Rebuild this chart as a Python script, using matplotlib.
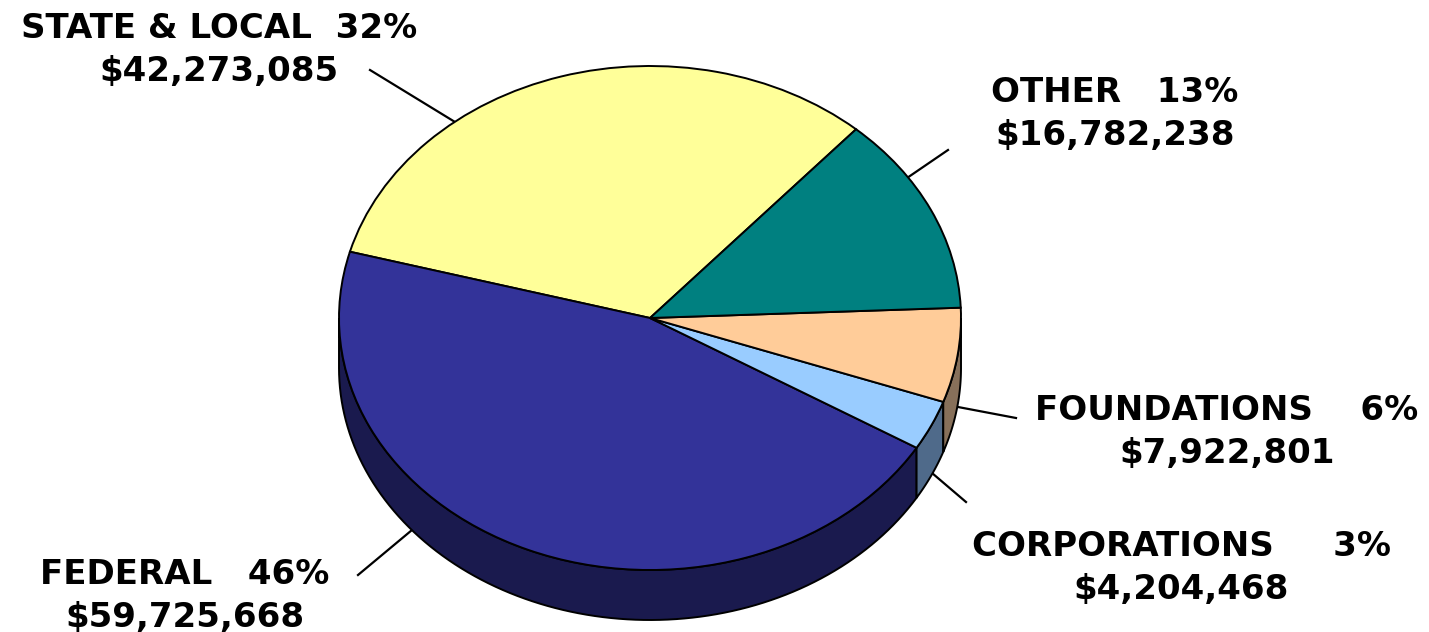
import numpy as np
import matplotlib
matplotlib.use('Agg')
import matplotlib.pyplot as plt
from matplotlib.patches import Polygon

# slices in drawing order, counterclockwise from the state/other boundary
names = ['STATE & LOCAL  32%', 'FEDERAL   46%', 'CORPORATIONS     3%', 'FOUNDATIONS    6%', 'OTHER   13%']
amounts = [42273085, 59725668, 4204468, 7922801, 16782238]
amount_labels = ['$42,273,085', '$59,725,668', '$4,204,468', '$7,922,801', '$16,782,238']
top_colors = ['#FFFF99', '#333399', '#99CCFF', '#FFCC99', '#008080']
side_colors = ['#808050', '#1A1A4E', '#4F6A8A', '#87705A', '#004040']

W, H = 1429, 632
CX, CY, RX, RY, DEPTH = 650, 318, 311, 252, 50
START = 48.5

fig = plt.figure(figsize=(W / 100, H / 100), dpi=100)
ax = fig.add_axes([0, 0, 1, 1])


def px(x, y):
    # picture pixels to data units (one radius = 1)
    return (x - CX) / RX, (CY - y) / RY


# side wall first, only the part facing the viewer
total = sum(amounts)
edges = START + np.cumsum([0] + amounts) * 360 / total
d = DEPTH / RY
for i in range(len(amounts)):
    for shift in (0, 360, -360):
        a = max(edges[i] + shift, 180)
        b = min(edges[i + 1] + shift, 360)
        if b <= a:
            continue
        t = np.radians(np.linspace(a, b, 100))
        x, y = np.cos(t), np.sin(t)
        pts = np.r_[np.c_[x, y], np.c_[x[::-1], y[::-1] - d]]
        ax.add_patch(Polygon(pts, closed=True, facecolor=side_colors[i], edgecolor='black', linewidth=1.4, zorder=1))

ax.pie(amounts, colors=top_colors, startangle=START, radius=1,
       wedgeprops={'edgecolor': 'black', 'linewidth': 1.4, 'zorder': 2})

# leader lines, label centres
leaders = [((370, 70), (455, 122)), ((358, 575), (412, 530)), ((966, 502), (932, 473)),
           ((1016, 418), (958, 407)), ((948, 150), (907, 178))]
label_pos = [(219, 50), (185, 596), (1181, 568), (1227, 432), (1115, 114)]
for i in range(len(names)):
    (x0, y0), (x1, y1) = px(*leaders[i][0]), px(*leaders[i][1])
    ax.plot([x0, x1], [y0, y1], color='black', linewidth=1.6, zorder=0)
    lx, ly = px(*label_pos[i])
    ax.text(lx, ly, names[i] + '\n' + amount_labels[i], ha='center', va='center',
            fontsize=24.5, fontweight='bold', family='DejaVu Sans', color='black',
            linespacing=1.35, clip_on=False)

ax.set_aspect('auto')
ax.set_xlim(px(0, 0)[0], px(W, 0)[0])
ax.set_ylim(px(0, H)[1], px(0, 0)[1])
ax.axis('off')
fig.savefig('out.png', dpi=100, facecolor='white')
